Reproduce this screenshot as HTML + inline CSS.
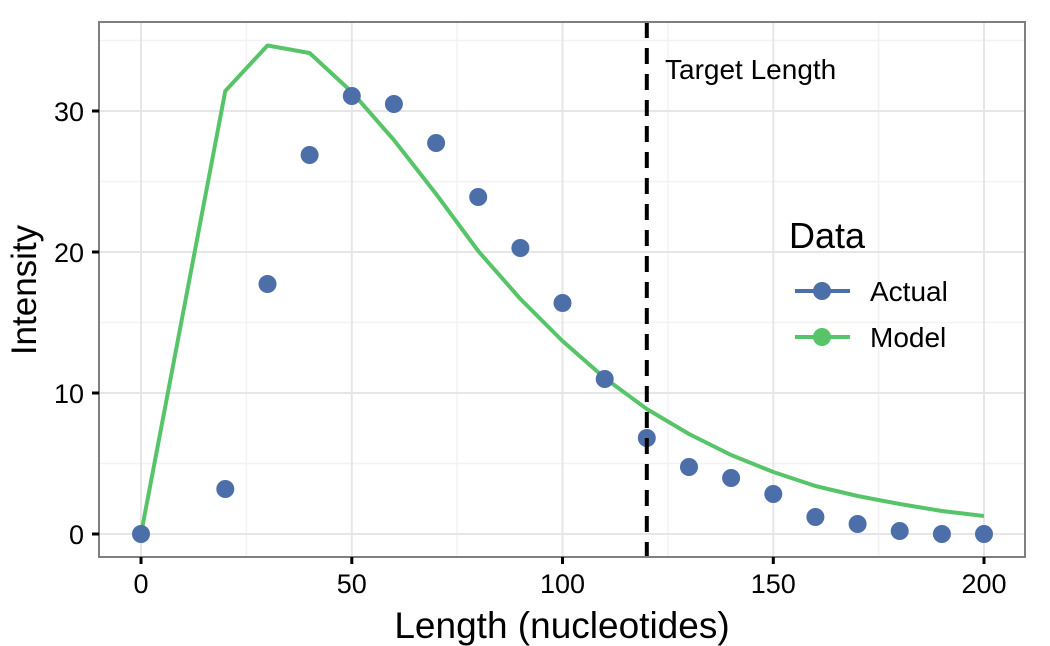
<!DOCTYPE html>
<html><head><style>body{margin:0;background:#fff}svg{display:block}</style></head><body>
<svg width="1050" height="646" xmlns="http://www.w3.org/2000/svg" font-family="Liberation Sans, sans-serif">
<rect x="99" y="22" width="926" height="535" fill="#fff"/>
<g stroke="#f2f2f2" stroke-width="1.5">
<line x1="246.4" y1="22" x2="246.4" y2="557"/><line x1="457.1" y1="22" x2="457.1" y2="557"/><line x1="667.9" y1="22" x2="667.9" y2="557"/><line x1="878.6" y1="22" x2="878.6" y2="557"/>
<line x1="99" y1="463.5" x2="1025" y2="463.5"/><line x1="99" y1="322.5" x2="1025" y2="322.5"/><line x1="99" y1="181.5" x2="1025" y2="181.5"/><line x1="99" y1="40.5" x2="1025" y2="40.5"/>
</g>
<g stroke="#e6e6e6" stroke-width="2">
<line x1="141" y1="22" x2="141" y2="557"/><line x1="351.8" y1="22" x2="351.8" y2="557"/><line x1="562.5" y1="22" x2="562.5" y2="557"/><line x1="773.3" y1="22" x2="773.3" y2="557"/><line x1="984" y1="22" x2="984" y2="557"/>
<line x1="99" y1="534" x2="1025" y2="534"/><line x1="99" y1="393" x2="1025" y2="393"/><line x1="99" y1="252" x2="1025" y2="252"/><line x1="99" y1="111" x2="1025" y2="111"/>
</g>
<polyline fill="none" stroke="#57c46a" stroke-width="4" stroke-linejoin="round" points="141,534 225.3,91 267.5,45.5 309.6,53 351.8,92 393.9,140 436.1,194 478.2,251 520.4,299 562.5,341 604.7,378 646.8,409 689,434 731.1,455 773.3,472 815.4,486 857.6,496 899.7,504 941.9,511 984,516"/>
<g fill="#4c6ea9">
<circle cx="141" cy="534" r="9"/><circle cx="225.3" cy="489" r="9"/><circle cx="267.5" cy="284" r="9"/><circle cx="309.6" cy="155" r="9"/><circle cx="351.8" cy="96" r="9"/><circle cx="393.9" cy="104" r="9"/><circle cx="436.1" cy="143" r="9"/><circle cx="478.2" cy="197" r="9"/><circle cx="520.4" cy="248" r="9"/><circle cx="562.5" cy="303" r="9"/><circle cx="604.7" cy="379" r="9"/><circle cx="646.8" cy="438" r="9"/><circle cx="689" cy="467" r="9"/><circle cx="731.1" cy="478" r="9"/><circle cx="773.3" cy="494" r="9"/><circle cx="815.4" cy="517" r="9"/><circle cx="857.6" cy="524" r="9"/><circle cx="899.7" cy="531" r="9"/><circle cx="941.9" cy="534" r="9"/><circle cx="984" cy="534" r="9"/>
</g>
<line x1="646.8" y1="22" x2="646.8" y2="557" stroke="#000" stroke-width="4" stroke-dasharray="16,10"/>
<text x="665" y="79" font-size="28">Target Length</text>
<rect x="99" y="22" width="926" height="535" fill="none" stroke="#7f7f7f" stroke-width="2"/>
<g stroke="#000" stroke-width="3">
<line x1="92" y1="534" x2="99" y2="534"/><line x1="92" y1="393" x2="99" y2="393"/><line x1="92" y1="252" x2="99" y2="252"/><line x1="92" y1="111" x2="99" y2="111"/>
<line x1="141" y1="557" x2="141" y2="564"/><line x1="351.8" y1="557" x2="351.8" y2="564"/><line x1="562.5" y1="557" x2="562.5" y2="564"/><line x1="773.3" y1="557" x2="773.3" y2="564"/><line x1="984" y1="557" x2="984" y2="564"/>
</g>
<g font-size="27" text-anchor="end">
<text x="84" y="544">0</text><text x="84" y="403">10</text><text x="84" y="262">20</text><text x="84" y="121">30</text>
</g>
<g font-size="27" text-anchor="middle">
<text x="141" y="593">0</text><text x="351.8" y="593">50</text><text x="562.5" y="593">100</text><text x="773.3" y="593">150</text><text x="984" y="593">200</text>
</g>
<text x="562" y="638" font-size="37" text-anchor="middle">Length (nucleotides)</text>
<text transform="translate(36,290) rotate(-90)" font-size="35" text-anchor="middle">Intensity</text>
<text x="789" y="248" font-size="36">Data</text>
<line x1="795" y1="291" x2="850" y2="291" stroke="#4c6ea9" stroke-width="4"/><circle cx="822" cy="291" r="9" fill="#4c6ea9"/>
<line x1="795" y1="337" x2="850" y2="337" stroke="#57c46a" stroke-width="4"/><circle cx="822" cy="337" r="9" fill="#57c46a"/>
<text x="870" y="301" font-size="28">Actual</text>
<text x="870" y="347" font-size="28">Model</text>
</svg>
</body></html>
